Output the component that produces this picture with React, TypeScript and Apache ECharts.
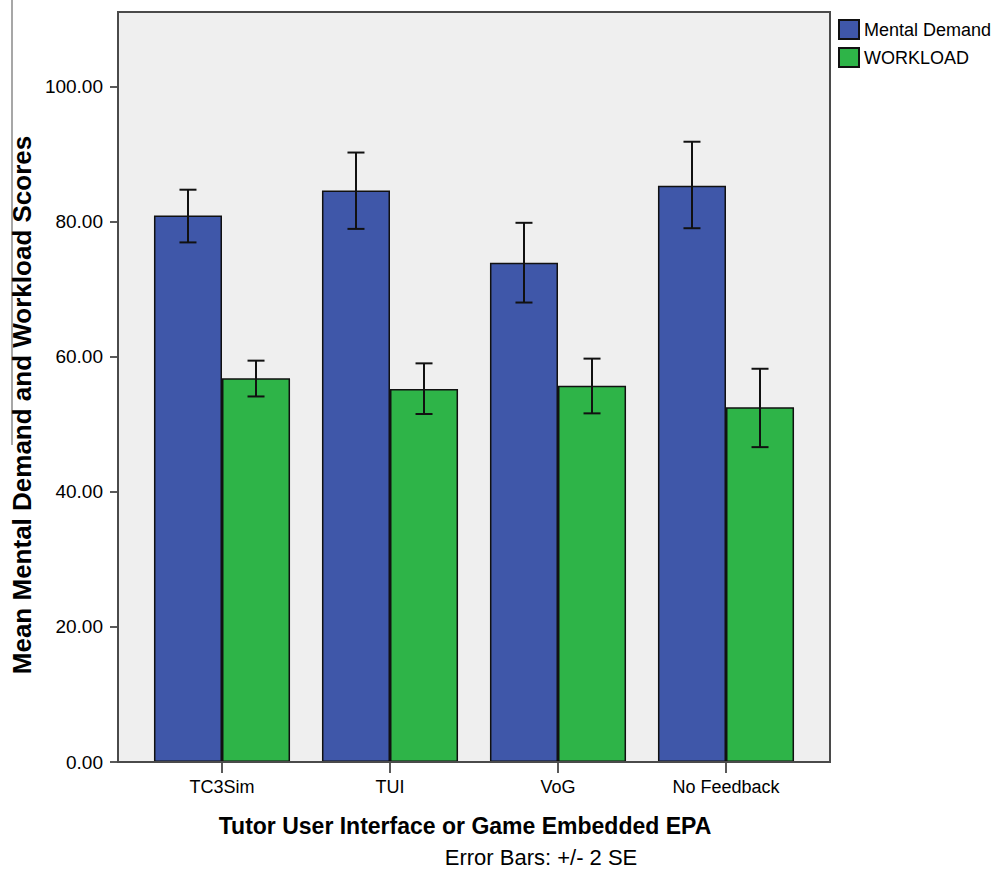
import React, { useEffect, useRef } from "react";
import * as echarts from "echarts";

const categories = ["TC3Sim", "TUI", "VoG", "No Feedback"];
const seriesNames = ["Mental Demand", "WORKLOAD"];
const mentalDemand = [80.9, 84.6, 73.9, 85.3];
const mentalDemandLow = [76.9, 78.9, 68.0, 79.0];
const mentalDemandHigh = [84.7, 90.2, 79.8, 91.8];
const workload = [56.8, 55.2, 55.7, 52.5];
const workloadLow = [54.1, 51.5, 51.6, 46.6];
const workloadHigh = [59.4, 59.0, 59.7, 58.2];
const yTicks = [0, 20, 40, 60, 80, 100];

const FONT = "Arial, 'Liberation Sans', sans-serif";
const BLUE = "#3f57a9";
const GREEN = "#2eb448";
const GAP = 0.19;

function makeErrorSeries(low: number[], high: number[], side: number) {
  return {
    type: "custom",
    z: 10,
    silent: true,
    data: low.map((l, i) => [i, l, high[i]]),
    encode: { x: 0, y: [1, 2] },
    renderItem: (params: any, api: any) => {
      const i = api.value(0);
      const lo = api.coord([i, api.value(1)]);
      const hi = api.coord([i, api.value(2)]);
      const band = api.size([1, 0])[0];
      const x = lo[0] + (side * band * (1 - GAP)) / 4;
      const cap = 8.5;
      const style = { stroke: "#111", lineWidth: 2, fill: null };
      return {
        type: "group",
        children: [
          { type: "line", shape: { x1: x, y1: hi[1], x2: x, y2: lo[1] }, style },
          { type: "line", shape: { x1: x - cap, y1: hi[1], x2: x + cap, y2: hi[1] }, style },
          { type: "line", shape: { x1: x - cap, y1: lo[1], x2: x + cap, y2: lo[1] }, style },
        ],
      };
    },
  };
}

export default function App() {
  const ref = useRef<HTMLDivElement>(null);
  useEffect(() => {
    if (!ref.current) return;
    const chart = echarts.init(ref.current, null, { renderer: "svg" });
    chart.setOption({
      animation: false,
      textStyle: { fontFamily: FONT },
      grid: { left: 138, right: 182, top: 12, bottom: 122, containLabel: false },
      legend: {
        data: seriesNames,
        orient: "vertical",
        left: 833,
        top: 14,
        itemWidth: 20,
        itemHeight: 19,
        itemGap: 7,
        icon: "rect",
        textStyle: { fontSize: 18, color: "#000", fontFamily: FONT },
      },
      xAxis: {
        type: "category",
        data: categories,
        axisLine: { show: true, lineStyle: { color: "#444", width: 2 } },
        axisTick: { show: true, alignWithLabel: true, length: 11, lineStyle: { color: "#222", width: 1.5 } },
        axisLabel: { fontSize: 18, color: "#000", margin: 16, fontFamily: FONT },
        splitLine: { show: false },
      },
      yAxis: {
        type: "value",
        min: 0,
        max: 111,
        interval: 20,
        offset: 20,
        axisLine: { show: true, lineStyle: { color: "#444", width: 2 } },
        axisTick: { show: true, customValues: yTicks, length: 8, lineStyle: { color: "#222", width: 1.5 } },
        axisLabel: {
          customValues: yTicks,
          fontSize: 19,
          color: "#000",
          margin: 15,
          fontFamily: FONT,
          formatter: (v: number) => v.toFixed(2),
        },
        splitLine: { show: false },
      },
      series: [
        {
          name: seriesNames[0],
          type: "bar",
          data: mentalDemand,
          barGap: "0%",
          barCategoryGap: "19%",
          itemStyle: { color: BLUE, borderColor: "#111", borderWidth: 1.5 },
        },
        {
          name: seriesNames[1],
          type: "bar",
          data: workload,
          barGap: "0%",
          barCategoryGap: "19%",
          itemStyle: { color: GREEN, borderColor: "#111", borderWidth: 1.5 },
        },
        makeErrorSeries(mentalDemandLow, mentalDemandHigh, -1),
        makeErrorSeries(workloadLow, workloadHigh, 1),
      ],
      graphic: [
        {
          type: "rect",
          z: -10,
          silent: true,
          shape: { x: 118, y: 12, width: 712, height: 750 },
          style: { fill: "#efefef" },
        },
        {
          type: "rect",
          z: 50,
          silent: true,
          shape: { x: 118, y: 12, width: 712, height: 750 },
          style: { fill: null, stroke: "#4a4a4a", lineWidth: 2 },
        },
        {
          type: "line",
          z: 50,
          silent: true,
          shape: { x1: 12, y1: 0, x2: 12, y2: 445 },
          style: { stroke: "#8a8a8a", lineWidth: 1.5 },
        },
        {
          type: "text",
          z: 50,
          x: 22,
          y: 405,
          rotation: Math.PI / 2,
          style: {
            text: "Mean Mental Demand and Workload Scores",
            fontSize: 26,
            fontWeight: "bold",
            fontFamily: FONT,
            fill: "#000",
            align: "center",
            verticalAlign: "middle",
          },
        },
        {
          type: "text",
          z: 50,
          x: 465,
          y: 826,
          style: {
            text: "Tutor User Interface or Game Embedded EPA",
            fontSize: 23,
            fontWeight: "bold",
            fontFamily: FONT,
            fill: "#000",
            align: "center",
            verticalAlign: "middle",
          },
        },
        {
          type: "text",
          z: 50,
          x: 541,
          y: 857,
          style: {
            text: "Error Bars: +/- 2 SE",
            fontSize: 22,
            fontFamily: FONT,
            fill: "#000",
            align: "center",
            verticalAlign: "middle",
          },
        },
      ],
    });
    return () => chart.dispose();
  }, []);
  return (
    <div
      ref={ref}
      style={{ position: "absolute", left: 0, top: 0, width: 992, height: 884, background: "#fff" }}
    />
  );
}
